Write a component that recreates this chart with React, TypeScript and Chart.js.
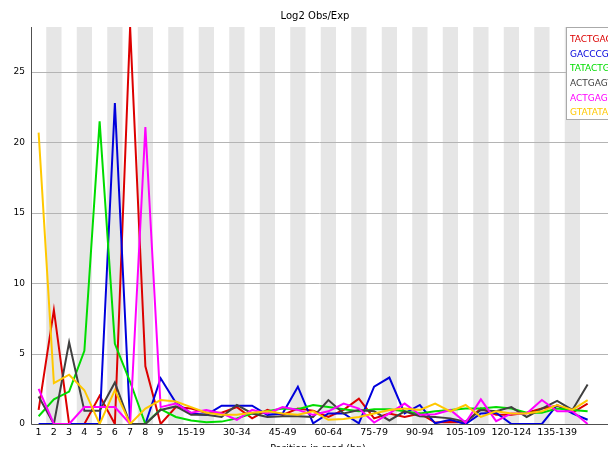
import React, { useEffect, useRef } from 'react';
import { Chart, registerables } from 'chart.js';

Chart.register(...registerables);

const categories = ['1','2','3','4','5','6','7','8','9','10-14','15-19','20-24','25-29','30-34','35-39','40-44','45-49','50-54','55-59','60-64','65-69','70-74','75-79','80-84','85-89','90-94','95-99','100-104','105-109','110-114','115-119','120-124','125-129','130-134','135-139','140-144','145-149'];

const shownTicks = ['1','2','3','4','5','6','7','8','9','15-19','30-34','45-49','60-64','75-79','90-94','105-109','120-124','135-139'];

const yTicks = [0, 5, 10, 15, 20, 25];
const yMax = 28.2;

const seriesNames = ['TACTGAG', 'GACCCGA', 'TATACTG', 'ACTGAGT', 'ACTGAGC', 'GTATATA'];
const seriesColors = ['rgb(220,0,0)', 'rgb(0,0,220)', 'rgb(0,220,0)', 'rgb(64,64,64)', 'rgb(255,0,255)', 'rgb(255,200,0)'];

const red = [1.0,8.1,0,0,2.0,0,28.2,4.1,0,1.2,1.1,0.8,0.8,1.2,0.4,1.0,0.65,1.1,0.95,0.5,1.0,1.8,0.4,0.75,0.5,0.75,0.1,0.15,0.1,1.1,0.65,0.65,0.8,1.1,1.3,0.8,1.45];
const blue = [0,0,0,0,0,22.8,0,0,3.25,1.5,0.75,0.65,1.3,1.3,1.3,0.65,0.75,2.65,0.05,0.75,0.75,0.05,2.65,3.3,0.75,1.35,0.05,0.3,0,0.75,0.8,0,0,0,1.35,0.75,0.3];
const green = [0.55,1.75,2.3,5.2,21.5,5.7,3.0,0,1.05,0.5,0.25,0.12,0.17,0.4,0.75,0.9,1.1,1.05,1.35,1.2,1.05,0.9,1.05,1.05,0.9,0.75,0.9,1.0,1.1,1.1,1.2,1.1,0.8,0.8,1.1,1.0,0.9];
const gray = [1.95,0,5.8,0.95,0.95,2.95,0,0,1.0,1.25,0.65,0.65,0.5,1.35,0.75,0.5,0.55,0.55,0.5,1.7,0.75,1.0,0.9,0.25,0.9,0.55,0.5,0.4,0.17,1.0,0.9,1.2,0.5,1.1,1.65,1.0,2.8];
const magenta = [2.5,0,0,1.2,1.2,1.2,0,21.1,1.2,1.45,0.8,1.0,0.75,0.3,1.0,0.75,1.2,1.0,0.65,0.9,1.45,1.1,0.1,0.75,1.45,0.65,0.7,1.0,0.1,1.75,0.2,0.75,0.75,1.7,0.9,0.9,0];
const orange = [20.7,2.9,3.5,2.4,0,2.4,0,1.1,1.7,1.6,1.2,0.8,0.65,0.65,0.8,0.9,0.75,0.65,0.9,0.3,0.35,0.5,0.75,1.0,1.1,1.0,1.45,0.9,1.35,0.5,0.9,0.75,0.75,0.9,1.35,1.0,1.7];

const seriesValues = [red, blue, green, gray, magenta, orange];

const W = 608;
const H = 455;
const FONT = '"DejaVu Sans", sans-serif';

const bgPlugin = {
  id: 'fastqcBg',
  beforeDraw(chart: any) {
    const { ctx, chartArea, scales } = chart;
    const x = scales.x;
    const y = scales.y;
    ctx.save();
    ctx.fillStyle = '#fff';
    ctx.fillRect(0, 0, chart.width, chart.height);
    const bw = (chartArea.right - chartArea.left) / categories.length;
    ctx.fillStyle = 'rgb(230,230,230)';
    for (let i = 1; i < categories.length; i += 2) {
      const cx = x.getPixelForValue(i);
      ctx.fillRect(cx - bw / 2, chartArea.top, bw, chartArea.bottom - chartArea.top);
    }
    ctx.strokeStyle = 'rgb(180,180,180)';
    ctx.lineWidth = 1;
    for (const t of yTicks) {
      if (t === 0) continue;
      const py = Math.round(y.getPixelForValue(t)) + 0.5;
      ctx.beginPath();
      ctx.moveTo(chartArea.left, py);
      ctx.lineTo(chart.width, py);
      ctx.stroke();
    }
    ctx.strokeStyle = 'rgb(80,80,80)';
    const bx = Math.round(chartArea.left) + 0.5;
    const by = Math.round(chartArea.bottom) + 0.5;
    ctx.beginPath();
    ctx.moveTo(bx, chartArea.top);
    ctx.lineTo(bx, by);
    ctx.lineTo(chart.width, by);
    ctx.stroke();
    ctx.restore();
  },
  afterDraw(chart: any) {
    const { ctx } = chart;
    ctx.save();
    ctx.fillStyle = '#000';
    ctx.textAlign = 'center';
    ctx.textBaseline = 'alphabetic';
    ctx.font = `10px ${FONT}`;
    ctx.fillText('Log2 Obs/Exp', 315, 19);
    ctx.font = `9.5px ${FONT}`;
    ctx.fillText('Position in read (bp)', 318, 451);
    ctx.fillStyle = '#fff';
    ctx.fillRect(0, 447, chart.width, H - 447);
    // legend
    const lx = 566.5;
    const ly = 27.5;
    ctx.fillStyle = '#fff';
    ctx.fillRect(lx, ly, 80, 92);
    ctx.strokeStyle = 'rgb(170,170,170)';
    ctx.lineWidth = 1;
    ctx.strokeRect(lx, ly, 80, 92);
    ctx.textAlign = 'left';
    ctx.textBaseline = 'middle';
    ctx.font = `9px ${FONT}`;
    for (let i = 0; i < seriesNames.length; i++) {
      ctx.fillStyle = seriesColors[i];
      ctx.fillText(seriesNames[i], 570, 39.5 + i * 14.7);
    }
    ctx.restore();
  },
};

export default function App() {
  const ref = useRef<HTMLCanvasElement | null>(null);
  useEffect(() => {
    if (!ref.current) return;
    const datasets = seriesValues.map((vals, i) => ({
      label: seriesNames[i],
      data: vals,
      borderColor: seriesColors[i],
      backgroundColor: seriesColors[i],
      borderWidth: 2,
      pointRadius: 0,
      tension: 0,
      fill: false,
      order: seriesValues.length - i,
    }));
    const chart = new Chart(ref.current, {
      type: 'line',
      data: { labels: categories, datasets },
      options: {
        responsive: false,
        animation: false,
        devicePixelRatio: 1,
        layout: { padding: { top: 27, right: W - 595.25, left: 0, bottom: 0 } },
        plugins: {
          legend: { display: false },
          title: { display: false },
          tooltip: { enabled: false },
        },
        scales: {
          x: {
            type: 'category',
            offset: true,
            grid: { display: false, drawTicks: false },
            border: { display: false },
            ticks: {
              autoSkip: false,
              maxRotation: 0,
              minRotation: 0,
              padding: 3,
              color: '#000',
              font: { family: FONT, size: 9.5 },
              callback: (_v: any, i: number) => (shownTicks.includes(categories[i]) ? categories[i] : ''),
            },
            afterFit: (s: any) => { s.height = 31; },
          },
          y: {
            min: 0,
            max: yMax,
            grid: { display: false, drawTicks: false },
            border: { display: false },
            ticks: {
              stepSize: 5,
              includeBounds: false,
              padding: 6,
              color: '#000',
              font: { family: FONT, size: 9 },
              callback: (v: any) => (yTicks.includes(Number(v)) ? String(v) : ''),
            },
            afterFit: (s: any) => { s.width = 31; },
          },
        },
      },
      plugins: [bgPlugin],
    } as any);
    return () => chart.destroy();
  }, []);
  return (
    <div style={{ position: 'absolute', left: 0, top: 0, width: W, height: H, overflow: 'hidden', background: '#fff' }}>
      <canvas ref={ref} width={W} height={H} style={{ display: 'block', width: W, height: H }} />
    </div>
  );
}
